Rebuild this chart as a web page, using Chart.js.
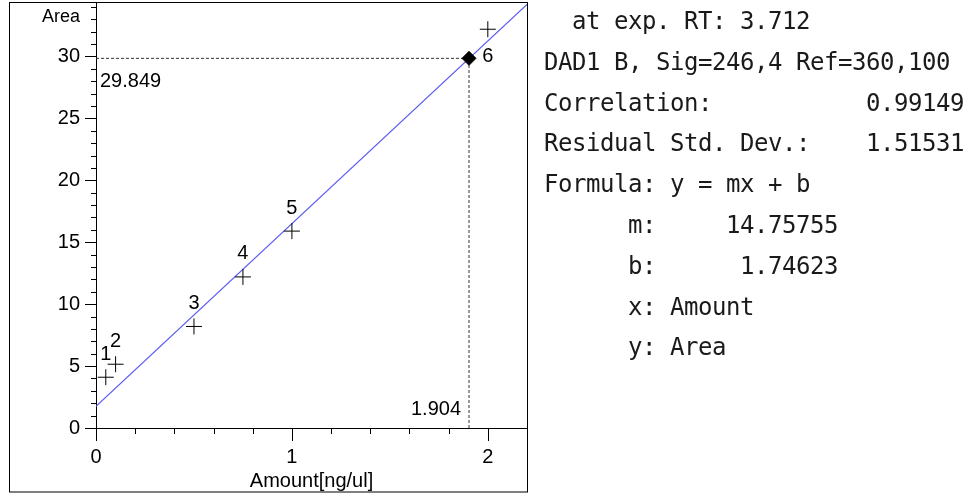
<!DOCTYPE html>
<html>
<head>
<meta charset="utf-8">
<script src="https://cdn.jsdelivr.net/npm/chart.js@4/dist/chart.umd.min.js"></script>
<style>
  body { margin: 0; background: #fff; }
  #wrap { position: absolute; left: 0; top: 0; width: 968px; height: 499px; }
  #info {
    position: absolute; left: 544px; top: 1px; margin: 0;
    font-family: "DejaVu Sans Mono", monospace; font-size: 24px;
    letter-spacing: -0.45px; line-height: 40.8px; color: #1a1a1a;
  }
</style>
</head>
<body>
<div id="wrap"><canvas id="calib"></canvas></div>
<pre id="info">  at exp. RT: 3.712
DAD1 B, Sig=246,4 Ref=360,100
Correlation:           0.99149
Residual Std. Dev.:    1.51531
Formula: y = mx + b
      m:     14.75755
      b:      1.74623
      x: Amount
      y: Area</pre>
<script>
// calibration levels
var amounts = [0.05, 0.1, 0.5, 0.75, 1.0, 2.0]
var areas = [4.1, 5.15, 8.2, 12.2, 15.9, 32.2]
var levelNames = ["1", "2", "3", "4", "5", "6"]

// fit  y = m x + b
var slope = 14.75755
var intercept = 1.74623

// sample found on the curve
var sampleAmount = 1.904
var sampleArea = 29.849

var xMax = 2.2
var yMax = 34.4

var calPoints = amounts.map(function (a, i) { return {x: a, y: areas[i]} })
var fitLine = [{x: 0, y: intercept}, {x: xMax, y: intercept + slope * xMax}]

var labelFont = '20px "Liberation Sans", Arial, sans-serif'

var extras = {
    id: 'extras',
    afterDraw: function (chart) {
        var ctx = chart.ctx
        var xs = chart.scales.x, ys = chart.scales.y
        var ax = chart.chartArea.left, ay = chart.chartArea.bottom
        ctx.save()
        ctx.strokeStyle = '#000'
        ctx.lineWidth = 1

        // y ticks, major every 5
        for (var v = 0; v <= Math.floor(yMax); v++) {
            var py = Math.round(ys.getPixelForValue(v)) + 0.5
            var len = v % 5 === 0 ? 11 : 5
            ctx.beginPath()
            ctx.moveTo(ax - len, py)
            ctx.lineTo(ax + 1, py)
            ctx.stroke()
        }
        // x ticks, major every 1
        for (var i = 0; i <= 11; i++) {
            var px = Math.round(xs.getPixelForValue(i * 0.2)) + 0.5
            var l = i % 5 === 0 ? 13 : 6
            ctx.beginPath()
            ctx.moveTo(px, ay)
            ctx.lineTo(px, ay + l)
            ctx.stroke()
        }

        ctx.fillStyle = '#000'
        ctx.font = labelFont
        ctx.textBaseline = 'middle'

        // level numbers
        var meta = chart.getDatasetMeta(1)
        ctx.textAlign = 'center'
        meta.data.forEach(function (pt, k) {
            var ly = pt.y - 23
            if (ly - 10 < chart.chartArea.top) ly = pt.y + 27
            ctx.fillText(levelNames[k], pt.x, ly)
        })

        // sample values
        var sx = xs.getPixelForValue(sampleAmount)
        var sy = ys.getPixelForValue(sampleArea)
        ctx.textAlign = 'left'
        ctx.fillText(sampleArea.toFixed(3), ax + 4, sy + 23)
        ctx.textAlign = 'right'
        ctx.fillText(sampleAmount.toFixed(3), sx - 8, ay - 19)

        // y axis title
        ctx.font = '18px "Liberation Sans", Arial, sans-serif'
        ctx.fillText('Area', 80, 17)

        // frame
        ctx.strokeRect(9.5, 2.5, 518, 489.5)
        ctx.restore()
    }
}

function noEdgePadding(scale) {
    scale.paddingTop = 0
    scale.paddingBottom = 0
    scale.paddingLeft = 0
    scale.paddingRight = 0
}

var calibChart = new Chart(document.getElementById('calib'), {
    type: 'scatter',
    data: {
        datasets: [
            {
                data: [{x: sampleAmount, y: sampleArea}],
                pointStyle: 'rectRot',
                pointRadius: 7,
                backgroundColor: '#000',
                borderColor: '#000',
                borderWidth: 1
            },
            {
                data: calPoints,
                pointStyle: 'cross',
                pointRadius: 8,
                borderColor: '#000',
                borderWidth: 1
            },
            {
                type: 'line',
                data: fitLine,
                borderColor: '#5c5cf2',
                borderWidth: 1.2,
                pointRadius: 0,
                fill: false
            },
            {
                type: 'line',
                data: [{x: 0, y: sampleArea}, {x: sampleAmount, y: sampleArea}],
                borderColor: '#333',
                borderWidth: 1,
                borderDash: [3, 2],
                pointRadius: 0,
                fill: false
            },
            {
                type: 'line',
                data: [{x: sampleAmount, y: 0}, {x: sampleAmount, y: sampleArea}],
                borderColor: '#333',
                borderWidth: 1,
                borderDash: [3, 2],
                pointRadius: 0,
                fill: false
            }
        ]
    },
    options: {
        responsive: true,
        maintainAspectRatio: false,
        animation: false,
        devicePixelRatio: 1,
        layout: {autoPadding: false, padding: {left: 0, top: 2, right: 441, bottom: 0}},
        plugins: {legend: {display: false}, tooltip: {enabled: false}},
        scales: {
            x: {
                type: 'linear',
                min: 0,
                max: xMax,
                grid: {display: false, drawTicks: false},
                border: {display: true, color: '#000', width: 1},
                ticks: {
                    stepSize: 1,
                    includeBounds: false,
                    autoSkip: false,
                    maxRotation: 0,
                    padding: 17,
                    color: '#000',
                    font: {family: '"Liberation Sans", Arial, sans-serif', size: 20}
                },
                title: {
                    display: true,
                    text: 'Amount[ng/ul]',
                    color: '#000',
                    font: {family: '"Liberation Sans", Arial, sans-serif', size: 20},
                    padding: {top: 0, bottom: 6}
                },
                afterFit: function (scale) {
                    scale.height = 71
                    noEdgePadding(scale)
                }
            },
            y: {
                type: 'linear',
                min: 0,
                max: yMax,
                grid: {display: false, drawTicks: false},
                border: {display: true, color: '#000', width: 1},
                ticks: {
                    stepSize: 5,
                    includeBounds: false,
                    autoSkip: false,
                    padding: 16,
                    color: '#000',
                    font: {family: '"Liberation Sans", Arial, sans-serif', size: 20}
                },
                afterFit: function (scale) {
                    scale.width = 96
                    noEdgePadding(scale)
                }
            }
        }
    },
    plugins: [extras]
});
</script>
</body>
</html>
